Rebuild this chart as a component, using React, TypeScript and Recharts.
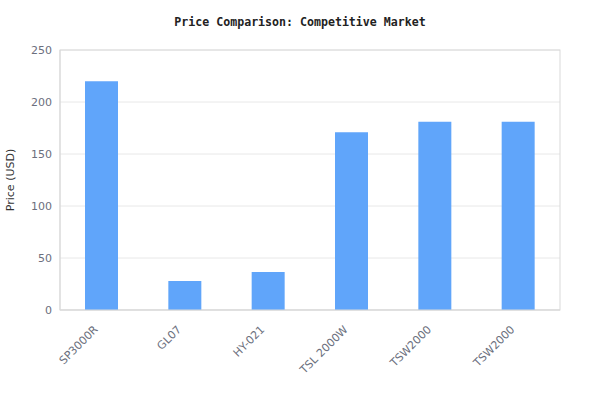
import React from 'react';
import * as Recharts from 'recharts';
import { BarChart, Bar, XAxis, YAxis, CartesianGrid } from 'recharts';

const categories = ['SP3000R', 'GL07', 'HY-021', 'TSL 2000W', 'TSW2000', 'TSW2000'];
const prices = [220, 28, 36.5, 171, 181, 181];
const yTicks = [0, 50, 100, 150, 200, 250];

const data = categories.map((name, i) => ({ name, price: prices[i] }));

const tickColor = '#6b6f7d';
const borderColor = '#d9d9d9';
const tickStyle = { fontSize: 11, fill: tickColor, fontFamily: 'DejaVu Sans' };

const usePlotAreaHook: any = (Recharts as any).usePlotArea || (() => null);

const PlotBorder = () => {
  const area = usePlotAreaHook();
  if (!area) return null;
  return (
    <rect
      x={area.x}
      y={area.y}
      width={area.width}
      height={area.height}
      fill="none"
      stroke={borderColor}
      strokeWidth={1}
    />
  );
};

const XTick = (props: any) => {
  const { x, y, payload } = props;
  return (
    <g transform={`translate(${x - 3},${y + 1})`}>
      <text
        x={-8}
        y={0}
        dy="0.71em"
        textAnchor="end"
        transform="rotate(-45)"
        fontSize={11}
        fill={tickColor}
        fontFamily="DejaVu Sans"
      >
        {payload.value}
      </text>
    </g>
  );
};

export default function App() {
  return (
    <div style={{ position: 'absolute', left: 0, top: 0, width: 600, height: 420, background: '#fff' }}>
      <div
        style={{
          position: 'absolute',
          left: 0,
          top: 15,
          width: 600,
          textAlign: 'center',
          fontFamily: 'DejaVu Sans Mono',
          fontWeight: 'bold',
          fontSize: 11.6,
          color: '#222',
        }}
      >
        Price Comparison: Competitive Market
      </div>
      <BarChart
        width={600}
        height={420}
        data={data}
        margin={{ top: 50, right: 40, bottom: 10, left: 0 }}
        barCategoryGap="30%"
      >
        <CartesianGrid vertical={false} stroke="#e8e8e8" />
        <XAxis
          dataKey="name"
          interval={0}
          tickLine={false}
          axisLine={{ stroke: borderColor }}
          tick={<XTick />}
          height={100}
        />
        <YAxis
          domain={[0, 250]}
          ticks={yTicks}
          tickLine={false}
          axisLine={{ stroke: borderColor }}
          tick={tickStyle}
          width={60}
          label={{
            value: 'Price (USD)',
            angle: -90,
            position: 'insideLeft',
            offset: 10,
            style: { textAnchor: 'middle', fontSize: 11, fill: '#333', fontFamily: 'DejaVu Sans' },
          }}
        />
        <Bar dataKey="price" fill="#60a5fa" isAnimationActive={false} />
        <PlotBorder />
      </BarChart>
    </div>
  );
}
